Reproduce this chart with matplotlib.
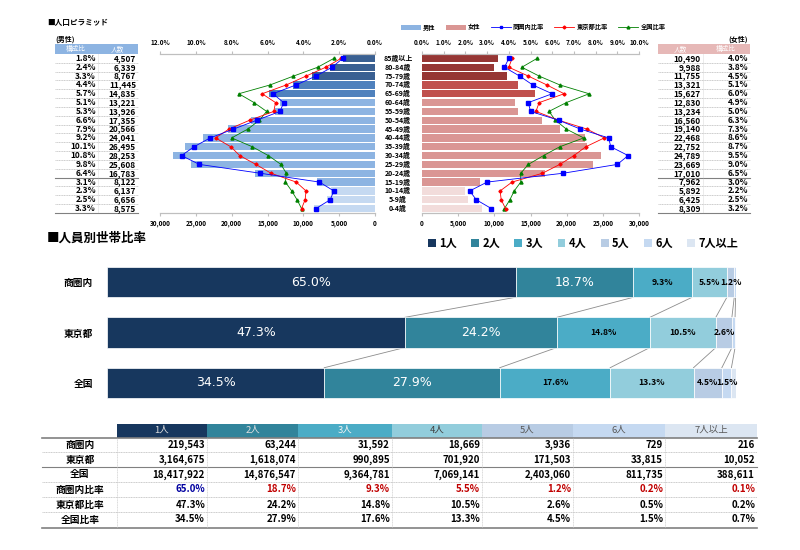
import numpy as np
import matplotlib.pyplot as plt
from matplotlib.patches import Patch, Rectangle
from matplotlib.lines import Line2D
from matplotlib.ticker import FixedLocator, FuncFormatter
from matplotlib.transforms import blended_transform_factory

plt.rcParams['font.family'] = ['Noto Sans CJK JP', 'DejaVu Sans']

W, H = 800, 550

# ---------- population pyramid (top row = oldest) ----------
ages = ["85歳以上", "80-84歳", "75-79歳", "70-74歳", "65-69歳", "60-64歳",
        "55-59歳", "50-54歳", "45-49歳", "40-44歳", "35-39歳", "30-34歳",
        "25-29歳", "20-24歳", "15-19歳", "10-14歳", "5-9歳", "0-4歳"]
male_pop = [4507, 6339, 8767, 11445, 14835, 13221, 13926, 17355, 20566,
            24041, 26495, 28253, 25608, 16783, 8122, 6137, 6656, 8575]
male_pct = [1.8, 2.4, 3.3, 4.4, 5.7, 5.1, 5.3, 6.6, 7.9,
            9.2, 10.1, 10.8, 9.8, 6.4, 3.1, 2.3, 2.5, 3.3]
female_pop = [10490, 9988, 11755, 13321, 15627, 12830, 13234, 16560, 19140,
              22468, 22752, 24789, 23669, 17010, 7962, 5892, 6425, 8309]
female_pct = [4.0, 3.8, 4.5, 5.1, 6.0, 4.9, 5.0, 6.3, 7.3,
              8.6, 8.7, 9.5, 9.0, 6.5, 3.0, 2.2, 2.5, 3.2]
tokyo_male_pct = [1.9, 2.75, 3.85, 4.95, 6.3, 5.55, 5.65, 7.0, 8.15,
                  8.9, 8.05, 7.55, 6.65, 5.8, 4.4, 3.85, 3.9, 4.1]
tokyo_female_pct = [4.15, 4.0, 4.9, 5.75, 6.55, 5.4, 5.25, 6.3, 7.6,
                    8.4, 7.55, 7.0, 6.35, 5.55, 4.15, 3.6, 3.65, 3.85]
japan_male_pct = [2.3, 3.2, 4.55, 5.85, 7.6, 6.75, 6.05, 6.45, 7.1,
                  8.0, 6.85, 5.95, 5.25, 4.95, 5.0, 4.65, 4.35, 4.1]
japan_female_pct = [5.3, 4.6, 5.4, 6.35, 7.7, 6.65, 5.85, 6.15, 6.65,
                    7.45, 6.35, 5.6, 4.9, 4.55, 4.55, 4.25, 4.05, 3.8]

# ---------- households by size ----------
areas = ["商圏内", "東京都", "全国"]
sizes = ["1人", "2人", "3人", "4人", "5人", "6人", "7人以上"]
hh_area = [219543, 63244, 31592, 18669, 3936, 729, 216]
hh_tokyo = [3164675, 1618074, 990895, 701920, 171503, 33815, 10052]
hh_japan = [18417922, 14876547, 9364781, 7069141, 2403060, 811735, 388611]

# styles
m_dark, m_mid, m_light, m_pale = '#3A6092', '#4F81BD', '#8DB4E2', '#C5D9F1'
f_dark, f_mid, f_light, f_pale = '#963634', '#C0504D', '#DA9694', '#F2DCDB'
male_colors = [m_dark]*3 + [m_mid]*2 + [m_light]*10 + [m_pale]*3
female_colors = [f_dark]*3 + [f_mid]*2 + [f_light]*10 + [f_pale]*3
hh_colors = ['#17375E', '#31849B', '#4BACC6', '#92CDDC', '#B8CCE4', '#C5D9F1', '#DCE6F2']
c_area, c_tokyo, c_japan = '#0000FF', '#FF0000', '#008000'

fig = plt.figure(figsize=(8, 5.5), dpi=100)
bg = fig.add_axes([0, 0, 1, 1])
bg.set_xlim(0, W)
bg.set_ylim(H, 0)
bg.axis('off')


def px_axes(x0, y0, x1, y1):
    a = fig.add_axes([x0 / W, 1 - y1 / H, (x1 - x0) / W, (y1 - y0) / H])
    a.set_facecolor('none')
    return a


def style_pyr(ax, ttop):
    for a in (ax, ttop):
        for s in ('left', 'right'):
            a.spines[s].set_visible(False)
        a.spines['top'].set_color('#BFBFBF')
        a.spines['bottom'].set_color('#BFBFBF')
    ax.set_yticks([])
    ax.xaxis.set_major_locator(FixedLocator(np.arange(0, 30001, 5000)))
    ax.xaxis.set_major_formatter(FuncFormatter(lambda v, p: f"{v:,.0f}"))
    ax.tick_params(axis='x', labelsize=4.6, length=2, color='#BFBFBF', pad=3)
    ttop.tick_params(axis='x', labelsize=4.6, length=2, color='#BFBFBF', pad=4)
    ttop.xaxis.set_major_formatter(FuncFormatter(lambda v, p: f"{v:.1f}%"))
    for lab in ax.get_xticklabels() + ttop.get_xticklabels():
        lab.set_fontweight('bold')


bg.text(47, 22, "■人口ピラミッド", fontsize=5.5, fontweight='bold', va='center')

y = np.arange(len(ages))
n = len(ages)

# left (male)
axL = px_axes(160, 54, 375, 213)
axL.barh(y, male_pop, height=0.82, color=male_colors)
axL.set_xlim(30000, 0)
axL.set_ylim(n - 0.5, -0.5)
tL = axL.twiny()
tL.set_xlim(12, 0)
tL.xaxis.set_major_locator(FixedLocator(np.arange(0, 12.1, 2)))
tL.plot(japan_male_pct, y, color=c_japan, marker='^', ms=2.2, lw=0.6)
tL.plot(tokyo_male_pct, y, color=c_tokyo, marker='D', ms=1.6, lw=0.6)
tL.plot(male_pct, y, color=c_area, marker='s', ms=2.4, lw=0.6)
style_pyr(axL, tL)

# right (female)
axR = px_axes(422, 54, 639, 213)
axR.barh(y, female_pop, height=0.82, color=female_colors)
axR.set_xlim(0, 30000)
axR.set_ylim(n - 0.5, -0.5)
tR = axR.twiny()
tR.set_xlim(0, 10)
tR.xaxis.set_major_locator(FixedLocator(np.arange(0, 10.1, 1)))
tR.plot(japan_female_pct, y, color=c_japan, marker='^', ms=2.2, lw=0.6)
tR.plot(tokyo_female_pct, y, color=c_tokyo, marker='D', ms=1.6, lw=0.6)
tR.plot(female_pct, y, color=c_area, marker='s', ms=2.4, lw=0.6)
style_pyr(axR, tR)

tr = blended_transform_factory(bg.transData, axL.transData)
for i, a in enumerate(ages):
    bg.text(398, i, a, transform=tr, ha='center', va='center', fontsize=5, fontweight='bold')

# side tables
bg.text(55, 39, "(男性)", fontsize=5, fontweight='bold', va='center')
bg.text(748, 39, "(女性)", fontsize=5, fontweight='bold', va='center', ha='right')
bg.add_patch(Rectangle((55, 44), 83, 9.5, fc=m_light, ec='none'))
bg.add_patch(Rectangle((658, 44), 92, 9.5, fc='#E6B8B7', ec='none'))
bg.text(76, 48.8, "構成比", fontsize=4.8, color='white', ha='center', va='center')
bg.text(117, 48.8, "人数", fontsize=4.8, color='white', ha='center', va='center')
bg.text(680, 48.8, "人数", fontsize=4.8, color='white', ha='center', va='center')
bg.text(726, 48.8, "構成比", fontsize=4.8, color='white', ha='center', va='center')
for i in range(n):
    bg.text(96, i, f"{male_pct[i]:.1f}%", transform=tr, ha='right', va='center', fontsize=6, fontweight='bold')
    bg.text(136, i, f"{male_pop[i]:,}", transform=tr, ha='right', va='center', fontsize=6, fontweight='bold')
    bg.text(701, i, f"{female_pop[i]:,}", transform=tr, ha='right', va='center', fontsize=6, fontweight='bold')
    bg.text(748, i, f"{female_pct[i]:.1f}%", transform=tr, ha='right', va='center', fontsize=6, fontweight='bold')
    solid = i in (13, n - 1)
    for x0, x1 in ((55, 138), (658, 750)):
        bg.plot([x0, x1], [i + 0.5, i + 0.5], transform=tr, color='#808080' if solid else '#A6A6A6',
                lw=0.8 if solid else 0.4, ls='-' if solid else (0, (2, 1)))
for xv in (98, 703):
    bg.plot([xv, xv], [-0.5, n - 0.5], transform=tr, color='#BFBFBF', lw=0.4, ls=(0, (1, 1)))

fig.legend(handles=[Patch(fc=m_light), Patch(fc=f_light),
                    Line2D([], [], color=c_area, marker='s', ms=2, lw=0.6),
                    Line2D([], [], color=c_tokyo, marker='D', ms=1.5, lw=0.6),
                    Line2D([], [], color=c_japan, marker='^', ms=2, lw=0.6)],
           labels=['男性', '女性', '商圏内比率', '東京都比率', '全国比率'],
           ncol=5, loc='center', bbox_to_anchor=(533 / W, 1 - 27 / H), frameon=False,
           prop={'size': 4.5, 'weight': 'bold'}, handlelength=3.2, handleheight=0.9,
           columnspacing=1.6, handletextpad=0.4)

# ---------- household stacked bars ----------
bg.text(47, 238, "■人員別世帯比率", fontsize=9, fontweight='bold', va='center')

counts = np.array([hh_area, hh_tokyo, hh_japan], dtype=float)
shares = counts / counts.sum(axis=1, keepdims=True) * 100
cum = np.cumsum(shares, axis=1)

axB = px_axes(107, 257, 736, 408)
left = np.zeros(len(areas))
for k in range(len(sizes)):
    bars = axB.barh(np.arange(len(areas)), shares[:, k], left=left, height=0.6,
                    color=hh_colors[k], edgecolor='white', lw=0.5)
    labs = [f"{s:.1f}%" if s >= 1 else "" for s in shares[:, k]]
    if k < 2:
        axB.bar_label(bars, labels=labs, label_type='center', color='white', fontsize=9,
                      family='DejaVu Sans')
    else:
        axB.bar_label(bars, labels=labs, label_type='center', color='black', fontsize=6.2,
                      fontweight='bold')
    left += shares[:, k]
    for i in range(len(areas) - 1):
        axB.plot([cum[i, k], cum[i + 1, k]], [i + 0.3, i + 0.7], color='#8C8C8C', lw=0.6, zorder=0)
axB.set_xlim(0, 100)
axB.set_ylim(len(areas) - 0.5, -0.5)
axB.set_xticks([])
axB.set_yticks(np.arange(len(areas)), areas, fontsize=7, fontweight='bold')
axB.tick_params(axis='y', length=0, pad=10)
for s in axB.spines.values():
    s.set_visible(False)

fig.legend(handles=[Patch(fc=c) for c in hh_colors], labels=sizes, ncol=7, loc='center',
           bbox_to_anchor=(583 / W, 1 - 243 / H), frameon=False,
           prop={'size': 8, 'weight': 'bold'}, handlelength=0.7, handleheight=0.7,
           handletextpad=0.3, columnspacing=1.3)

# ---------- household table ----------
col_edges = [117, 207, 298, 392, 482, 573, 665, 757]
hdr_text = ['#E0E0E0', '#E0E0E0', '#F2F2F2', '#404040', '#595959', '#595959', '#595959']
for k in range(len(sizes)):
    bg.add_patch(Rectangle((col_edges[k], 424), col_edges[k + 1] - col_edges[k], 13.5,
                           fc=hh_colors[k], ec='none'))
    bg.text((col_edges[k] + col_edges[k + 1]) / 2, 430.5, sizes[k], fontsize=6.8,
            color=hdr_text[k], ha='center', va='center')

row_labels = areas + [a + "比率" for a in areas]
row_y0, row_h = 444.5, 15
for r, lab in enumerate(row_labels):
    yy = row_y0 + r * row_h
    bg.text(80, yy, lab, fontsize=7, fontweight='bold', ha='center', va='center')
    for k in range(len(sizes)):
        if r < 3:
            txt, col = f"{int(counts[r, k]):,}", 'black'
        else:
            txt = f"{shares[r - 3, k]:.1f}%"
            col = 'black' if r > 3 else ('#0000A0' if k == 0 else '#C00000')
        bg.text(col_edges[k + 1] - 2, yy, txt, fontsize=7, fontweight='bold',
                ha='right', va='center', color=col)

bg.plot([42, 757], [437.5, 437.5], color='#808080', lw=1.2)
bg.plot([42, 757], [527.5, 527.5], color='#808080', lw=1.2)
bg.plot([42, 757], [467, 467], color='#808080', lw=0.8)
for yy in (452, 482, 497, 512):
    bg.plot([42, 757], [yy, yy], color='#A6A6A6', lw=0.4, ls=(0, (2, 1)))
for xv in col_edges[:-1]:
    bg.plot([xv, xv], [437.5, 527.5], color='#BFBFBF', lw=0.4, ls=(0, (2, 1)))

fig.savefig('out.png', dpi=100)
